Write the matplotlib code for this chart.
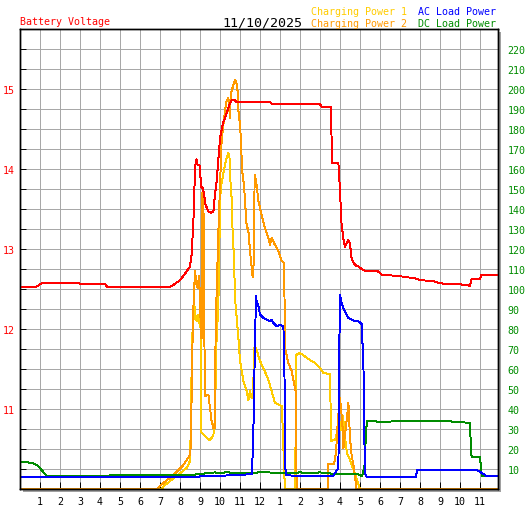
import matplotlib
matplotlib.use("Agg")
import matplotlib.pyplot as plt
from matplotlib.patches import Rectangle
import numpy as np

# 11/10/2025 - hours since midnight
volt_h = [0, 0.83, 1.08, 2.97, 3.05, 4.25, 4.35, 7.17, 7.25, 7.5,
          7.67, 8.0, 8.33, 8.5, 8.58, 8.67, 8.72, 8.78, 8.83, 8.88,
          8.97, 9.0, 9.05, 9.15, 9.28, 9.42, 9.55, 9.67, 9.75, 9.83,
          10.0, 10.08, 10.17, 10.3, 10.42, 10.5, 10.58, 10.75, 10.8, 12.5,
          12.6, 15.0, 15.1, 15.55, 15.6, 15.92, 15.95, 16.0, 16.08, 16.17,
          16.25, 16.33, 16.42, 16.5, 16.58, 16.75, 16.92, 17.08, 17.33, 17.9,
          18.08, 19.0, 19.83, 20.0, 20.67, 21.0, 22.0, 22.5, 22.58, 23.0,
          23.08, 23.9]
volt_v = [12.53, 12.53, 12.57, 12.57, 12.56, 12.56, 12.53, 12.53, 12.52, 12.53,
          12.55, 12.61, 12.72, 12.78, 12.93, 13.34, 13.76, 14.09, 14.12, 14.05,
          14.05, 14.01, 13.78, 13.76, 13.55, 13.47, 13.45, 13.47, 13.68, 13.84,
          14.38, 14.49, 14.59, 14.67, 14.76, 14.82, 14.86, 14.86, 14.84, 14.84,
          14.81, 14.81, 14.77, 14.77, 14.07, 14.07, 13.95, 13.72, 13.30, 13.13,
          13.03, 13.07, 13.11, 13.07, 12.88, 12.80, 12.78, 12.75, 12.72, 12.72,
          12.68, 12.66, 12.63, 12.61, 12.60, 12.57, 12.56, 12.54, 12.63, 12.63,
          12.68, 12.68]

cp1_h = [0, 7.08, 7.25, 7.83, 8.33, 8.5, 8.55, 8.58, 8.63, 8.67,
         8.72, 8.77, 8.83, 8.88, 8.95, 9.03, 9.06, 9.08, 9.25, 9.47,
         9.58, 9.67, 9.75, 9.8, 9.83, 9.92, 9.95, 10.0, 10.03, 10.17,
         10.25, 10.33, 10.42, 10.47, 10.5, 10.53, 10.58, 10.63, 10.7, 10.75,
         10.92, 11.0, 11.17, 11.33, 11.42, 11.5, 11.58, 11.65, 11.72, 11.8,
         12.0, 12.17, 12.42, 12.58, 12.75, 13.0, 13.08, 13.13, 13.17, 13.2,
         13.25, 13.75, 13.78, 13.8, 14.0, 14.5, 14.75, 15.0, 15.17, 15.5,
         15.53, 15.55, 15.75, 15.88, 15.95, 16.05, 16.15, 16.25, 16.35, 16.5,
         16.75, 17.0, 23.9]
cp1_w = [0, 0, 2, 6.5, 10.5, 14, 35.5, 60.5, 80.5, 84,
         92, 87, 84, 87, 84, 80.5, 29, 28, 26.5, 24.5,
         25.5, 27, 35.5, 64, 75.5, 92, 117, 134, 150, 158,
         162, 165.5, 168, 166.5, 160.5, 152, 145.5, 129, 115.5, 95.5,
         75.5, 64, 54, 49, 44.5, 49, 45.5, 48, 70.5, 70.5,
         64, 60.5, 54.5, 49, 43, 42, 41.5, 32, 20.5, 10.5,
         0, 0, 25.5, 67, 68, 64.5, 63, 60.5, 58, 57.5,
         40.5, 24, 24.5, 29.5, 35.5, 29.5, 36.5, 25.5, 18, 14.5,
         7.5, 0, 0]

cp2_h = [0, 6.85, 7.17, 7.67, 8.17, 8.5, 8.53, 8.58, 8.63, 8.68,
         8.72, 8.75, 8.83, 8.88, 8.95, 9.0, 9.05, 9.08, 9.1, 9.17,
         9.22, 9.25, 9.42, 9.5, 9.58, 9.67, 9.75, 9.78, 9.92, 10.08,
         10.17, 10.25, 10.33, 10.42, 10.5, 10.53, 10.58, 10.67, 10.75, 10.8,
         10.87, 10.92, 11.0, 11.05, 11.08, 11.13, 11.2, 11.25, 11.33, 11.42,
         11.5, 11.63, 11.7, 11.73, 11.75, 11.83, 11.92, 12.08, 12.25, 12.42,
         12.5, 12.58, 12.75, 12.92, 13.08, 13.2, 13.22, 13.25, 13.42, 13.58,
         13.75, 13.8, 13.83, 15.4, 15.42, 15.7, 15.8, 15.9, 16.0, 16.08,
         16.13, 16.17, 16.33, 16.42, 16.5, 16.58, 16.67, 16.83, 23.9]
cp2_w = [0, 0, 3, 7, 12, 17, 20.5, 45.5, 75.5, 94,
         102, 109, 102, 100.5, 106.5, 95.5, 75.5, 75.5, 148, 146,
         75.5, 46.5, 47, 40.5, 34, 30.5, 30.5, 80.5, 129, 174,
         182, 189, 194, 195.5, 185.5, 195.5, 199, 202, 204.5, 204,
         200.5, 189, 182, 174, 165.5, 157, 152, 144, 132, 129,
         119, 106, 115, 156.5, 157, 152, 144, 137, 130.5, 125.5,
         122, 125.5, 122, 119, 114, 113, 100.5, 70.5, 63, 59,
         50.5, 48, 0, 0, 12.5, 12.5, 18, 35.5, 45.5, 37,
         30.5, 20.5, 34, 43, 25.5, 17, 12, 0, 0]

ac_h = [0, 8.75, 9.0, 11.0, 11.6, 11.67, 11.75, 11.8, 11.83, 11.92,
        12.0, 12.17, 12.33, 12.5, 12.58, 12.67, 12.83, 13.0, 13.17, 13.22,
        13.27, 13.3, 14.0, 15.65, 15.75, 15.92, 15.97, 16.0, 16.05, 16.17,
        16.42, 16.67, 16.92, 17.08, 17.17, 17.22, 17.25, 17.35, 19.8, 19.85,
        22.85, 23.35, 23.9]
ac_w = [5.9, 5.9, 6.3, 7.0, 7.5, 29.7, 73.9, 96.4, 93.9, 91.4,
        87.2, 85.5, 84.7, 83.9, 84.7, 83.0, 81.4, 81.9, 81.4, 60.5,
        10.5, 7.0, 6.3, 6.5, 8.0, 10.5, 73.9, 97.2, 93.9, 90.5,
        85.5, 84.2, 83.9, 82.5, 63.0, 24.7, 7.5, 6.0, 6.0, 9.5,
        9.5, 6.4, 6.4]

dc_h = [0, 0.35, 0.65, 0.85, 1.0, 1.2, 1.35, 3.0, 4.0, 4.75,
        7.0, 7.35, 8.75, 9.25, 9.75, 10.0, 10.35, 10.75, 11.25, 11.6,
        12.15, 12.85, 13.5, 14.0, 14.5, 15.0, 15.75, 16.5, 16.9, 17.1,
        17.22, 17.25, 17.33, 17.38, 18.08, 18.83, 21.33, 22.0, 22.5, 22.53,
        22.58, 23.0, 23.05, 23.1, 23.9]
dc_w = [13.4, 13.4, 12.9, 12.0, 10.5, 8.0, 6.3, 6.3, 6.5, 6.9,
        6.9, 7.2, 7.2, 7.8, 8.3, 7.8, 8.5, 7.8, 7.8, 8.0,
        8.5, 8.0, 7.9, 8.3, 7.9, 8.3, 7.5, 7.3, 7.3, 6.5,
        10.5, 18.0, 32.2, 34.2, 33.5, 33.9, 33.9, 33.5, 33.0, 24.7,
        15.9, 15.9, 10.5, 6.5, 6.5]

hour_labels = [str(h) for h in range(1, 12)] + ["12"] + [str(h) for h in range(1, 12)]
volt_labels = [11, 12, 13, 14, 15]
power_labels = list(range(10, 230, 10))

RED, GOLD, ORANGE, BLUE, GREEN = "#FF0000", "#FFCC00", "#FF9900", "#0000FF", "#008C00"
W, H = 527, 510
FONT = "DejaVu Sans Mono"
LW = 0.7   # ~1 px at 100 dpi

fig = plt.figure(figsize=(W / 100, H / 100), dpi=100)
fig.patch.set_facecolor("white")

# drop shadow behind the plot frame
fig.patches.append(Rectangle((23 / W, 17 / H), 478 / W, 460 / H, transform=fig.transFigure,
                             facecolor="#A0A0A0", edgecolor="none", zorder=-10))

ax = fig.add_axes([20 / W, 20 / H, 478 / W, 460 / H])   # power axis (right labels)
ax2 = ax.twinx()                                        # voltage axis (left labels)
ax.set_facecolor("white")

ax.set_xlim(0, 23.9)
ax.set_ylim(0, 230)
ax2.set_ylim(10.0, 15.75)

ax.plot(cp1_h, cp1_w, color=GOLD, lw=LW, antialiased=False)
ax.plot(cp2_h, cp2_w, color=ORANGE, lw=LW, antialiased=False)
ax.plot(dc_h, dc_w, color=GREEN, lw=LW, antialiased=False)
ax.plot(ac_h, ac_w, color=BLUE, lw=LW, antialiased=False)
ax2.plot(volt_h, volt_v, color=RED, lw=LW, antialiased=False)

# x axis: hours
ax.set_xticks(range(1, 24))
ax.set_xticklabels(hour_labels, fontsize=7.2, family=FONT)
ax.tick_params(axis="x", direction="in", length=5, width=LW, color="black", pad=5)

# right axis: power
ax.yaxis.tick_right()
ax.set_yticks(power_labels)
ax.set_yticklabels([str(p) for p in power_labels], fontsize=7.2, family=FONT, color=GREEN)
ax.tick_params(axis="y", length=0, pad=7)

ax.grid(True, color="#A8A8A8", lw=LW, antialiased=False)
ax.set_axisbelow(True)

# left axis: voltage
ax2.yaxis.tick_left()
vticks = np.arange(10.25, 15.75, 0.25)
ax2.set_yticks(vticks)
ax2.set_yticklabels([str(int(v)) if v in volt_labels else "" for v in vticks],
                    fontsize=7.2, family=FONT, color=RED)
ax2.tick_params(axis="y", direction="in", length=4, width=LW, color="black", pad=4)

for a in (ax, ax2):
    for s in a.spines.values():
        s.set_color("black")
        s.set_linewidth(1.0)

def ftext(x, y, s, **kw):
    fig.text(x / W, 1 - y / H, s, va="baseline", family=FONT, **kw)

ftext(20, 25, "Battery Voltage", color=RED, fontsize=7.2)
ftext(222, 26, "11/10/2025", color="black", fontsize=9.6)
ftext(311, 15, "Charging Power 1", color=GOLD, fontsize=7.2)
ftext(311, 27, "Charging Power 2", color=ORANGE, fontsize=7.2)
ftext(418, 15, "AC Load Power", color=BLUE, fontsize=7.2)
ftext(418, 27, "DC Load Power", color=GREEN, fontsize=7.2)

fig.savefig("out.png", dpi=100)
